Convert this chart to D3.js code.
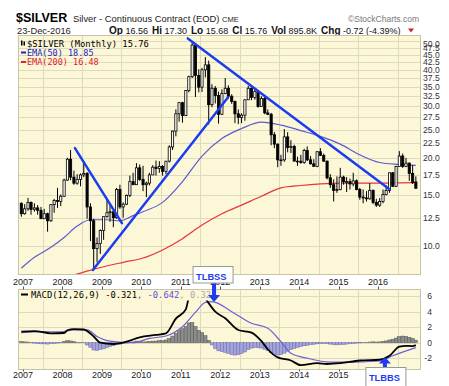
<!DOCTYPE html>
<html>
<head>
<meta charset="utf-8">
<script src="https://cdn.jsdelivr.net/npm/d3@7"></script>
<style>
body { margin: 0; background: #fff; }
svg { display: block; font-family: "Liberation Sans", Arial, sans-serif; }
.mono { font-family: "DejaVu Sans Mono", monospace; }
</style>
</head>
<body>
<script>
//monthly candles, first bar is Dec 2006
var firstMonth = "2006-12";
var opens = [14.00,
  12.90,13.40,14.10,13.35,13.50,13.25,12.40,12.90,12.20,13.85,14.30,14.20,
  14.80,16.80,19.80,17.20,16.40,16.90,17.50,17.70,13.60,12.20,9.80,10.20,
  11.30,12.60,13.00,13.10,12.50,15.60,13.60,13.90,14.90,16.60,16.20,18.50,
  16.90,16.20,16.40,17.50,18.60,18.40,18.70,18.00,19.50,21.80,24.70,28.30,
  30.90,27.90,34.00,37.90,48.60,38.30,34.90,40.00,41.60,30.40,34.60,32.70,
  28.20,33.20,34.60,32.50,31.20,28.30,27.50,28.00,31.60,34.60,32.20,33.70,
  30.00,31.90,28.50,28.20,24.00,22.30,19.70,19.70,23.60,21.70,21.90,19.50,
  19.50,19.30,21.20,19.70,19.10,18.70,21.00,20.40,19.50,17.10,16.20,15.50,
  15.60,17.20,16.60,16.60,16.30,16.70,15.60,14.70,14.60,14.50,15.50,14.10,
  13.80,14.20,15.00,15.50,17.80,16.00,18.70,20.30,18.70,19.20,17.70,16.56];
var highs = [14.10,
  13.90,14.60,14.20,14.00,13.80,13.60,13.40,13.00,13.90,14.50,15.80,15.00,
  17.00,20.00,21.30,18.10,17.60,17.70,19.50,17.90,14.00,12.40,10.70,11.40,
  12.60,14.50,13.90,13.20,15.80,16.20,14.10,15.00,17.40,17.80,19.20,19.00,
  18.80,16.60,17.80,18.90,19.60,19.50,18.90,19.50,22.10,24.80,29.30,31.00,
  31.10,34.00,38.20,49.80,48.70,40.20,40.60,44.20,43.00,35.70,35.20,33.70,
  34.30,37.50,35.40,33.00,31.40,29.30,28.40,31.70,35.30,34.80,34.50,33.80,
  32.50,32.40,29.30,28.50,24.50,22.40,20.50,25.10,24.50,23.00,22.20,20.20,
  20.50,21.50,21.90,20.30,19.80,21.10,21.60,20.70,19.60,17.60,16.90,17.30,
  18.50,17.40,17.20,17.00,17.80,16.90,15.80,15.60,15.40,16.40,15.60,14.50,
  14.60,15.60,16.10,17.80,17.90,18.80,21.10,20.70,20.00,19.30,18.90,17.30];
var lows = [12.60,
  12.80,13.20,12.80,13.10,12.80,12.40,12.40,11.20,12.10,13.00,13.50,13.70,
  14.70,16.70,16.80,16.20,16.20,16.00,17.20,12.40,10.40,8.40,8.80,9.40,
  10.50,12.50,12.10,11.60,12.40,13.40,12.50,13.80,14.70,16.20,16.20,16.70,
  15.40,14.70,16.10,17.50,17.40,17.80,17.40,17.60,19.30,21.30,23.70,26.60,
  26.40,27.80,33.50,37.50,32.30,33.50,33.60,37.70,26.00,29.80,30.70,26.20,
  28.00,33.00,31.90,30.60,26.30,26.10,26.30,26.80,31.60,31.50,31.60,29.70,
  29.90,28.20,28.00,22.10,21.60,18.60,18.80,19.40,20.90,20.80,19.60,18.80,
  19.10,19.10,19.50,19.00,18.80,18.60,20.30,19.40,16.90,15.80,14.20,15.20,
  15.50,16.20,15.30,15.60,16.00,15.50,14.40,14.00,14.20,14.40,13.90,13.60,
  13.60,14.00,14.90,15.20,15.90,15.90,18.70,18.50,18.60,16.70,16.30,15.68];
var closes = [12.90,
  13.40,14.10,13.35,13.50,13.25,12.40,12.90,12.20,13.85,14.30,14.20,14.80,
  16.80,19.80,17.20,16.40,16.90,17.50,17.70,13.60,12.20,9.80,10.20,11.30,
  12.60,13.00,13.10,12.50,15.60,13.60,13.90,14.90,16.60,16.20,18.50,16.90,
  16.20,16.40,17.50,18.60,18.40,18.70,18.00,19.50,21.80,24.70,28.30,30.90,
  27.90,34.00,37.90,48.60,38.30,34.90,40.00,41.60,30.40,34.60,32.70,28.20,
  33.20,34.60,32.50,31.20,28.30,27.50,28.00,31.60,34.60,32.20,33.70,30.00,
  31.90,28.50,28.20,24.00,22.30,19.70,19.70,23.60,21.70,21.90,19.50,19.50,
  19.30,21.20,19.70,19.10,18.70,21.00,20.40,19.50,17.10,16.20,15.50,15.60,
  17.20,16.60,16.60,16.30,16.70,15.60,14.70,14.60,14.50,15.50,14.10,13.80,
  14.20,15.00,15.50,17.80,16.00,18.70,20.30,18.70,19.20,17.70,16.50,15.76];

//MACD histogram, one value per month
var histValues = [0.12,
  0.10,0.08,0.02,-0.05,-0.10,-0.15,-0.15,-0.18,-0.12,-0.08,-0.05,0.05,
  0.15,0.25,0.22,0.12,0.05,0.05,0.02,-0.30,-0.60,-0.95,-1.00,-0.90,
  -0.80,-0.65,-0.50,-0.40,-0.25,-0.20,-0.12,-0.05,0.05,0.10,0.20,0.15,
  0.10,0.10,0.15,0.20,0.20,0.25,0.25,0.35,0.55,0.85,1.20,1.55,
  1.80,2.10,2.55,2.60,2.10,1.60,1.30,0.90,0.30,-0.30,-0.75,-1.05,
  -1.15,-1.25,-1.40,-1.55,-1.60,-1.55,-1.40,-1.20,-0.90,-0.70,-0.60,-0.65,
  -0.70,-0.85,-1.05,-1.30,-1.50,-1.60,-1.55,-1.35,-1.10,-0.90,-0.75,-0.60,
  -0.50,-0.40,-0.35,-0.25,-0.20,-0.15,-0.10,-0.08,-0.12,-0.18,-0.25,-0.28,
  -0.25,-0.22,-0.18,-0.12,-0.08,-0.05,-0.02,0.02,0.05,0.08,0.10,0.08,
  0.10,0.15,0.22,0.35,0.45,0.60,0.78,0.85,0.82,0.70,0.55,0.32];

//moving averages
var ema50Months = ["2006-12","2007-04","2007-09","2008-01","2008-05","2008-09","2009-02","2009-06","2009-10","2010-01","2010-07","2011-01","2011-07","2012-01","2012-07","2013-01","2013-07","2014-01","2014-07","2015-01","2015-07","2016-01","2016-07","2016-12"];
var ema50Values = [8.4,9.15,9.9,10.7,11.7,12.3,12.3,12.2,12.7,13.1,14.1,16.6,20.3,23.3,25.2,26.5,25.9,24.8,23.7,22.3,20.5,19.3,19.0,18.85];
var ema200Months = ["2006-12","2007-06","2008-01","2008-07","2009-01","2009-07","2010-01","2010-07","2011-01","2011-07","2012-01","2012-07","2013-01","2013-07","2014-01","2014-07","2015-01","2015-07","2016-01","2016-07","2016-12"];
var ema200Values = [7.1,7.5,7.8,8.15,8.5,8.8,9.1,9.7,10.6,11.8,12.9,13.8,14.8,15.8,16.1,16.3,16.4,16.4,16.4,16.45,16.48];

//MACD(12,26,9) and its signal line
var macdMonths = ["2006-12","2007-04","2007-09","2008-01","2008-02","2008-04","2008-07","2008-10","2008-12","2009-04","2009-08","2009-12","2010-05","2010-08","2010-11","2011-02","2011-03","2011-04","2011-05","2011-06","2011-08","2011-11","2012-02","2012-06","2012-10","2013-01","2013-03","2013-06","2013-10","2014-01","2014-06","2014-09","2015-01","2015-07","2016-01","2016-04","2016-07","2016-09","2016-11","2016-12"];
var macdValues = [1.42,1.5,1.2,1.25,1.6,1.75,1.7,0.8,0.0,-0.17,0.13,0.7,1.0,1.2,3.1,4.3,5.9,7.3,7.3,6.8,5.7,4.0,3.15,1.64,1.3,0.2,-0.85,-1.9,-2.3,-2.9,-2.65,-2.75,-2.65,-2.3,-2.2,-1.7,-0.5,-0.4,-0.45,-0.32];
var signalMonths = ["2006-12","2007-06","2007-12","2008-04","2008-08","2008-11","2009-03","2009-10","2010-03","2010-08","2011-01","2011-05","2011-08","2011-10","2012-04","2012-10","2013-03","2013-07","2013-10","2014-03","2014-10","2015-05","2016-01","2016-05","2016-12"];
var signalValues = [1.3,1.42,1.4,1.64,1.64,0.8,0.2,0.0,0.55,0.86,2.06,3.9,5.2,5.3,4.0,2.5,1.86,0.13,-1.37,-2.0,-2.5,-2.5,-2.36,-1.68,-0.64];

//hand drawn trend lines: [start day, start price, end day, end price]
var trendLines = [
  ["2008-04-26", 21.6, "2009-07-05", 11.98],
  ["2008-10-09", 8.28, "2012-03-12", 32.2],
  ["2011-03-07", 51.2, "2016-04-10", 15.7]
];

var priceTicks = [10, 12.5, 15, 17.5, 20, 22.5, 25, 27.5, 30, 32.5, 35, 37.5, 40, 42.5, 45, 47.5, 50];
var macdTicks = [-2, 0, 2, 4, 6];
var yearLabels = ["2007","2008","2009","2010","2011","2012","2013","2014","2015","2016"];
var quoteLabels = ["Op", "Hi", "Lo", "Cl", "Vol", "Chg"];
var quoteValues = ["16.56", "17.30", "15.68", "15.76", "895.8K", "-0.72 (-4.39%)"];

window.onload = drawChart();

function drawChart(){
    var width = 449,
        height = 386;
    var left = 18.5, right = 420.5;
    var mainTop = 35.5, mainBottom = 274.5;
    var macdTop = 289.5, macdBottom = 369.5;
    var panelFill = "#fbf7d7", gridColor = "#dedabf";

    var svg = d3.select("body")
        .append("svg")
        .attr("width", width)
        .attr("height", height);

    var parseMonth = d3.timeParse("%Y-%m"),
        parseDay = d3.timeParse("%Y-%m-%d");

    var start = parseMonth(firstMonth);
    var months = d3.timeMonth.range(start, d3.timeMonth.offset(start, closes.length));

    //scales
    var x = d3.scaleTime()
        .domain([new Date(2007, 0, 1), new Date(2016, 0, 1)])
        .range([23, 378]);
    var half = (x(new Date(2007, 1, 1)) - x(new Date(2007, 0, 1))) / 2;
    function xc(d){ return x(d) + half; }

    var y = d3.scaleLog()
        .domain([7.995, 52.4])
        .range([mainBottom, mainTop]);
    var ym = d3.scaleLinear()
        .domain([-3.46, 6.86])
        .range([macdBottom, macdTop]);

    var defs = svg.append("defs");
    defs.append("clipPath").attr("id", "clipMain")
        .append("rect").attr("x", left).attr("y", mainTop)
        .attr("width", right - left).attr("height", mainBottom - mainTop);
    defs.append("clipPath").attr("id", "clipMacd")
        .append("rect").attr("x", left).attr("y", macdTop)
        .attr("width", right - left).attr("height", macdBottom - macdTop);

    //header
    svg.append("text").attr("x", 16).attr("y", 22)
        .attr("font-size", "12.5px").attr("font-weight", "bold").text("$SILVER");
    svg.append("text").attr("x", 73).attr("y", 22)
        .attr("font-size", "9.4px").attr("fill", "#222").text("Silver - Continuous Contract (EOD)");
    svg.append("text").attr("x", 222).attr("y", 22)
        .attr("font-size", "7.5px").attr("fill", "#222").text("CME");
    svg.append("text").attr("x", 419).attr("y", 22).attr("text-anchor", "end")
        .attr("font-size", "8.5px").attr("fill", "#777").text("\u00a9StockCharts.com");

    svg.append("text").attr("x", 17).attr("y", 33.5)
        .attr("font-size", "9.3px").attr("fill", "#222").text("23-Dec-2016");
    var quote = svg.append("text").attr("x", 109).attr("y", 33.5).attr("fill", "#111");
    quoteLabels.forEach(function(lab, i){
        quote.append("tspan").attr("dx", i ? 4 : 0)
            .attr("font-size", "10px").attr("font-weight", "bold").text(lab);
        quote.append("tspan").attr("dx", 2.5)
            .attr("font-size", "9px").text(quoteValues[i]);
    });
    svg.append("path")
        .attr("d", "M408,28.5 L414,28.5 L411,32.5 Z")
        .attr("fill", "#d0202a");

    //panels
    [[mainTop, mainBottom], [macdTop, macdBottom]].forEach(function(p){
        svg.append("rect")
            .attr("x", left).attr("y", p[0])
            .attr("width", right - left).attr("height", p[1] - p[0])
            .attr("fill", panelFill);
    });

    //grid
    var julys = yearLabels.map(function(yr){ return new Date(+yr, 6, 1); });
    svg.selectAll(".vgrid")
        .data(julys)
        .enter()
        .append("path")
        .attr("class", "vgrid")
        .attr("d", function(d){
            var xx = Math.round(x(d)) + 0.5;
            return "M" + xx + "," + mainTop + "V" + mainBottom + "M" + xx + "," + macdTop + "V" + macdBottom;
        })
        .attr("stroke", gridColor).attr("stroke-width", 1);

    svg.selectAll(".pgrid")
        .data(priceTicks)
        .enter()
        .append("line")
        .attr("class", "pgrid")
        .attr("x1", left).attr("x2", right)
        .attr("y1", function(d){ return Math.round(y(d)) + 0.5; })
        .attr("y2", function(d){ return Math.round(y(d)) + 0.5; })
        .attr("stroke", gridColor);

    svg.selectAll(".mgrid")
        .data(macdTicks)
        .enter()
        .append("line")
        .attr("class", "mgrid")
        .attr("x1", left).attr("x2", right)
        .attr("y1", function(d){ return Math.round(ym(d)) + 0.5; })
        .attr("y2", function(d){ return Math.round(ym(d)) + 0.5; })
        .attr("stroke", gridColor);

    //price panel contents
    var main = svg.append("g").attr("clip-path", "url(#clipMain)");

    var lineMonths = d3.line()
        .x(function(d){ return xc(d[0]); })
        .y(function(d){ return y(d[1]); })
        .curve(d3.curveMonotoneX);

    main.append("path")
        .datum(ema200Months.map(function(m, i){ return [parseMonth(m), ema200Values[i]]; }))
        .attr("d", lineMonths)
        .attr("fill", "none").attr("stroke", "#e8343c").attr("stroke-width", 1.2);

    main.append("path")
        .datum(ema50Months.map(function(m, i){ return [parseMonth(m), ema50Values[i]]; }))
        .attr("d", lineMonths)
        .attr("fill", "none").attr("stroke", "#5c5ccc").attr("stroke-width", 1.2);

    var candles = main.selectAll(".candle")
        .data(months.map(function(m, i){
            return {date: m, o: opens[i], h: highs[i], l: lows[i], c: closes[i]};
        }))
        .enter()
        .append("g")
        .attr("class", "candle");

    candles.append("line")
        .attr("x1", function(d){ return xc(d.date); })
        .attr("x2", function(d){ return xc(d.date); })
        .attr("y1", function(d){ return y(d.h); })
        .attr("y2", function(d){ return y(d.l); })
        .attr("stroke", "#000").attr("stroke-width", 1);

    candles.append("rect")
        .attr("x", function(d){ return xc(d.date) - 1.1; })
        .attr("width", 2.2)
        .attr("y", function(d){ return y(Math.max(d.o, d.c)); })
        .attr("height", function(d){ return Math.max(0.8, Math.abs(y(d.o) - y(d.c))); })
        .attr("fill", function(d){ return d.c >= d.o ? "#fff" : "#000"; })
        .attr("stroke", "#000").attr("stroke-width", 0.8);

    main.selectAll(".trend")
        .data(trendLines)
        .enter()
        .append("line")
        .attr("class", "trend")
        .attr("x1", function(d){ return x(parseDay(d[0])); })
        .attr("y1", function(d){ return y(d[1]); })
        .attr("x2", function(d){ return x(parseDay(d[2])); })
        .attr("y2", function(d){ return y(d[3]); })
        .attr("stroke", "#1c3cf0").attr("stroke-width", 2.5)
        .attr("stroke-linecap", "round");

    //price legend
    svg.append("rect").attr("x", 21).attr("y", 40.5).attr("width", 1.5).attr("height", 5).attr("fill", "#000");
    svg.append("rect").attr("x", 23.5).attr("y", 41.5).attr("width", 1.5).attr("height", 4).attr("fill", "#000");
    svg.append("text").attr("class", "mono").attr("x", 27).attr("y", 46.5)
        .attr("font-size", "8.8px").attr("fill", "#000").text("$SILVER (Monthly) 15.76");
    svg.append("line").attr("x1", 21).attr("x2", 26).attr("y1", 52.5).attr("y2", 52.5)
        .attr("stroke", "#2323c8").attr("stroke-width", 2);
    svg.append("text").attr("class", "mono").attr("x", 27).attr("y", 55.5)
        .attr("font-size", "8.5px").attr("fill", "#2323c8").text("EMA(50) 18.85");
    svg.append("line").attr("x1", 21).attr("x2", 26).attr("y1", 62).attr("y2", 62)
        .attr("stroke", "#e0202a").attr("stroke-width", 2);
    svg.append("text").attr("class", "mono").attr("x", 27).attr("y", 65)
        .attr("font-size", "8.5px").attr("fill", "#e0202a").text("EMA(200) 16.48");

    //price axis
    svg.selectAll(".plabel")
        .data(priceTicks)
        .enter()
        .append("text")
        .attr("class", "plabel")
        .attr("x", 423)
        .attr("y", function(d){ return Math.max(y(d), mainTop + 8); })
        .attr("dy", "0.35em")
        .attr("font-size", "8.6px").attr("fill", "#333")
        .text(function(d){ return d3.format(".1f")(d); });

    //MACD panel contents
    var lower = svg.append("g").attr("clip-path", "url(#clipMacd)");

    lower.selectAll(".hist")
        .data(months.map(function(m, i){ return {date: m, v: histValues[i]}; }))
        .enter()
        .append("rect")
        .attr("class", "hist")
        .attr("x", function(d){ return xc(d.date) - half; })
        .attr("width", half * 2)
        .attr("y", function(d){ return ym(Math.max(0, d.v)); })
        .attr("height", function(d){ return Math.abs(ym(d.v) - ym(0)); })
        .attr("fill", function(d){ return d.v >= 0 ? "#8c8c8c" : "#a4a4d8"; })
        .attr("stroke", function(d){ return d.v >= 0 ? "#555" : "#6a6ab2"; })
        .attr("stroke-width", 0.5);

    var lineMacd = d3.line()
        .x(function(d){ return xc(d[0]); })
        .y(function(d){ return ym(d[1]); })
        .curve(d3.curveMonotoneX);

    lower.append("path")
        .datum(signalMonths.map(function(m, i){ return [parseMonth(m), signalValues[i]]; }))
        .attr("d", lineMacd)
        .attr("fill", "none").attr("stroke", "#6e5fd8").attr("stroke-width", 1.2);

    lower.append("path")
        .datum(macdMonths.map(function(m, i){ return [parseMonth(m), macdValues[i]]; }))
        .attr("d", lineMacd)
        .attr("fill", "none").attr("stroke", "#000").attr("stroke-width", 1.8);

    //MACD legend
    svg.append("rect").attr("x", left + 0.5).attr("y", macdTop + 0.5)
        .attr("width", 196).attr("height", 10.5).attr("fill", panelFill);
    svg.append("line").attr("x1", 21).attr("x2", 28).attr("y1", 294.5).attr("y2", 294.5)
        .attr("stroke", "#000").attr("stroke-width", 2);
    var ml = svg.append("text").attr("class", "mono").attr("x", 31).attr("y", 297.8)
        .attr("font-size", "8.8px");
    ml.append("tspan").attr("fill", "#000").text("MACD(12,26,9) -0.321");
    ml.append("tspan").attr("fill", "#5a4fd8").text(", -0.642");
    ml.append("tspan").attr("fill", "#aaa").text(", 0.321");

    svg.selectAll(".mlabel")
        .data(macdTicks)
        .enter()
        .append("text")
        .attr("class", "mlabel")
        .attr("x", 432)
        .attr("y", function(d){ return ym(d); })
        .attr("dy", "0.35em")
        .attr("text-anchor", "end")
        .attr("font-size", "8.6px").attr("fill", "#333")
        .text(function(d){ return d; });

    //panel borders
    [[mainTop, mainBottom], [macdTop, macdBottom]].forEach(function(p){
        svg.append("rect")
            .attr("x", left).attr("y", p[0])
            .attr("width", right - left).attr("height", p[1] - p[0])
            .attr("fill", "none").attr("stroke", "#c8c4ac");
    });

    //year ticks and labels
    var jans = yearLabels.map(function(yr){ return new Date(+yr, 0, 1); });
    svg.selectAll(".ytick")
        .data(jans)
        .enter()
        .append("path")
        .attr("class", "ytick")
        .attr("d", function(d){
            var xx = Math.round(x(d)) + 0.5;
            return "M" + xx + "," + (macdTop - 3) + "V" + macdTop + "M" + xx + "," + macdBottom + "V" + (macdBottom + 2);
        })
        .attr("stroke", "#555");

    [284.5, 378].forEach(function(base){
        svg.selectAll(null)
            .data(jans)
            .enter()
            .append("text")
            .attr("x", function(d){ return x(d); })
            .attr("y", base)
            .attr("text-anchor", "middle")
            .attr("font-size", "9px").attr("fill", "#222")
            .text(function(d, i){ return yearLabels[i]; });
    });

    //signal annotations
    function note(label, day, value, down){
        var ax = x(parseDay(day));
        var tip = ym(value);
        var g = svg.append("g");
        var bx, by;
        if (down) {
            bx = ax - 21; by = 266.5;
            g.append("rect").attr("x", ax - 2).attr("y", by + 16).attr("width", 4).attr("height", tip - 7 - by - 16).attr("fill", "#1c3cf0");
            g.append("path").attr("d", "M" + (ax - 6) + "," + (tip - 7) + "L" + (ax + 6) + "," + (tip - 7) + "L" + ax + "," + tip + "Z").attr("fill", "#1c3cf0");
        } else {
            bx = ax - 19; by = 367.5;
            g.append("rect").attr("x", ax - 2).attr("y", tip + 6).attr("width", 4).attr("height", by - tip - 6).attr("fill", "#1c3cf0");
            g.append("path").attr("d", "M" + (ax - 6) + "," + (tip + 6.5) + "L" + (ax + 6) + "," + (tip + 6.5) + "L" + ax + "," + tip + "Z").attr("fill", "#1c3cf0");
        }
        g.append("rect").attr("x", bx).attr("y", by).attr("width", 40).attr("height", down ? 16.5 : 22)
            .attr("fill", "#fff").attr("stroke", "#999");
        g.append("text").attr("x", bx + 3).attr("y", by + 13.5)
            .attr("font-size", "9.3px").attr("font-weight", "bold").attr("fill", "#1c3cf0").text(label);
    }
    note("TLBSS", "2011-11-05", 5.25, true);
    note("TLBBS", "2016-03-05", -1.85, false);
};
</script>
</body>
</html>
